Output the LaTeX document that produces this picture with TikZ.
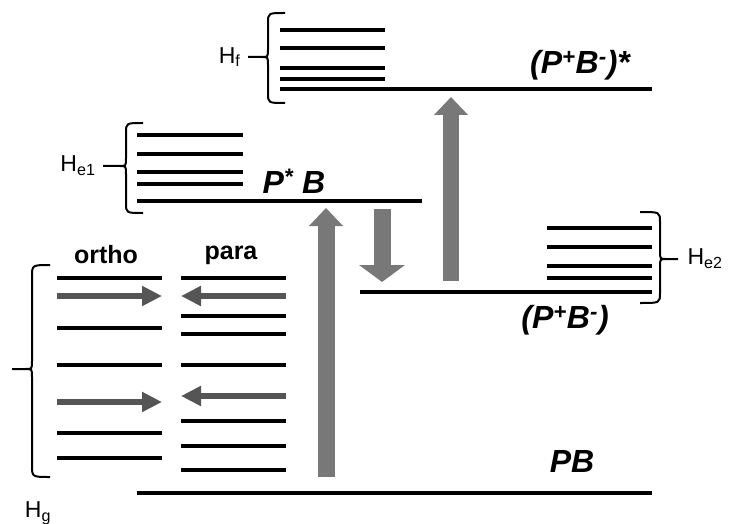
\documentclass[tikz,border=0pt]{standalone}
\usepackage{fontspec}
\setmainfont{Liberation Sans}
\usepackage{xcolor}
\usetikzlibrary{arrows.meta,positioning}

\definecolor{arrowgray}{HTML}{787878}
\definecolor{spingray}{HTML}{555555}

\tikzset{
  level/.style={line width=4pt},
  brak/.style={line width=2pt},
  bigarrow/.style={line width=17pt,draw=arrowgray,-{Triangle[length=18pt,width=33pt]}},
  spinarrow/.style={line width=6pt,draw=spingray,-{Triangle[length=20pt,width=19pt]}},
  state/.style={font=\fontsize{32}{32}\selectfont\bfseries\itshape},
  hlabel/.style={font=\fontsize{23}{23}\selectfont},
  spinlabel/.style={font=\fontsize{25}{25}\selectfont\bfseries}
}

\begin{document}
\begin{tikzpicture}[x=1pt,y=-1pt]
\useasboundingbox (0,0) rectangle (731,524);
%define the levels of (P+B-)*
\draw[level] (280,89) -- (652,89);
\foreach \y in {30,48,68,79} \draw[level] (280,\y) -- (385,\y);
%define the levels of P*B
\draw[level] (137,201) -- (422,201);
\foreach \y in {135,154,172,184} \draw[level] (137,\y) -- (243,\y);
%define the levels of (P+B-)
\draw[level] (360,292) -- (652,292);
\foreach \y in {228,247,266,278} \draw[level] (547,\y) -- (652,\y);
%ground state PB
\draw[level] (137,493) -- (652,493);
%ortho and para levels
\foreach \y in {278,328,365,433,458} \draw[level] (57,\y) -- (162,\y);
\foreach \y in {278,316,334,365,421,446,470} \draw[level] (181,\y) -- (286,\y);
%the braces
\draw[brak] (285,13) .. controls (268,13) .. (268,23) -- (268,49) .. controls (268,57) .. (262,57) -- (248,57)
  (262,57) .. controls (268,57) .. (268,65) -- (268,93) .. controls (268,103) .. (285,103);
\coordinate (Hftip) at (248,57);
\draw[brak] (143,123) .. controls (126,123) .. (126,133) -- (126,158) .. controls (126,166) .. (120,166) -- (103,166)
  (120,166) .. controls (126,166) .. (126,174) -- (126,203) .. controls (126,213) .. (143,213);
\coordinate (He1tip) at (103,166);
\draw[brak] (640,212) .. controls (660,212) .. (660,222) -- (660,251) .. controls (660,259) .. (666,259) -- (678,259)
  (666,259) .. controls (660,259) .. (660,267) -- (660,293) .. controls (660,303) .. (640,303);
\coordinate (He2tip) at (678,259);
\draw[brak] (50,265) .. controls (32,265) .. (32,277) -- (32,361) .. controls (32,369) .. (26,369) -- (12,369)
  (26,369) .. controls (32,369) .. (32,377) -- (32,465) .. controls (32,477) .. (50,477);
%brace labels
\node[hlabel,left=4pt of Hftip] (Hf) {H\textsubscript{f}};
\node[hlabel,left=4pt of He1tip] (He1) {H\textsubscript{e1}};
\node[hlabel,right=6pt of He2tip] (He2) {H\textsubscript{e2}};
\node[hlabel] (Hg) at (38,513) {H\textsubscript{g}};
%state labels
\node[state] (RPstar) at (580,65) {(P\textsuperscript{+}B\textsuperscript{-})*};
\node[state] (PstarB) at (294,181) {P\textsuperscript{*} B};
\node[state] (RP) at (565,320) {(P\textsuperscript{+}B\textsuperscript{-})};
\node[state] (PB) at (572,461) {PB};
\node[spinlabel] (ortho) at (106,255) {ortho};
\node[spinlabel] (para) at (231,255) {para};
%the transitions
\coordinate (exc0) at (326,477);
\coordinate (exc1) at (326,208);
\coordinate (ct0) at (382,209);
\coordinate (ct1) at (382,282);
\coordinate (rexc0) at (451,281);
\coordinate (rexc1) at (451,97);
\draw[bigarrow] (exc0) -- (exc1);
\draw[bigarrow,-{Triangle[length=17pt,width=45pt]}] (ct0) -- (ct1);
\draw[bigarrow,line width=16pt] (rexc0) -- (rexc1);
%ortho/para conversion
\foreach \y [count=\i] in {296,402} {
  \coordinate (o\i) at (57,\y);
  \coordinate (oe\i) at (162,\y);
  \draw[spinarrow] (o\i) -- (oe\i);
}
\foreach \y [count=\i] in {296,396} {
  \coordinate (p\i) at (286,\y);
  \coordinate (pe\i) at (181,\y);
  \draw[spinarrow] (p\i) -- (pe\i);
}
\end{tikzpicture}
\end{document}
